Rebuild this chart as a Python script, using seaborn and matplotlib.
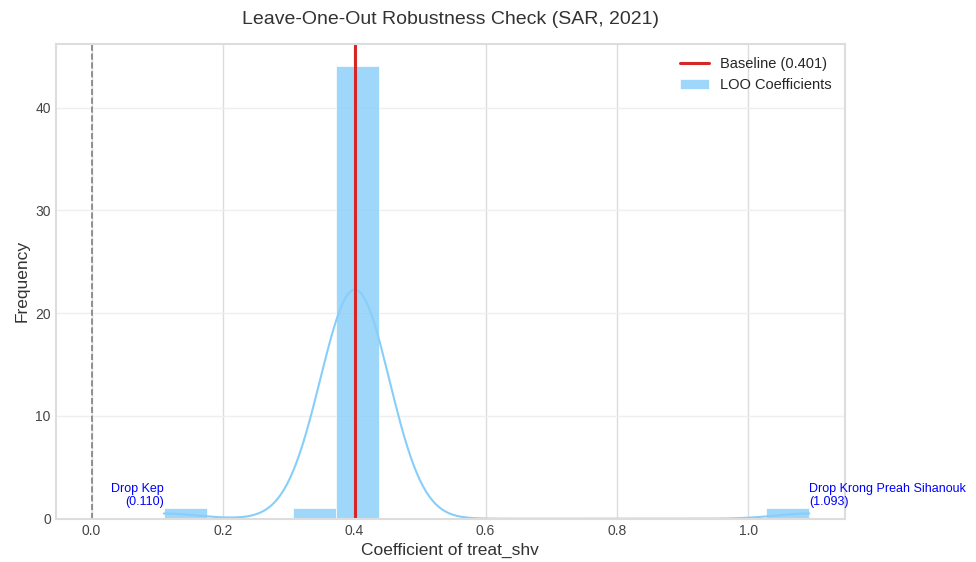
import matplotlib
matplotlib.use("Agg")
import matplotlib.pyplot as plt
from matplotlib.ticker import MultipleLocator
import seaborn as sns
import pandas as pd

# Leave-one-out coefficients
loo_coefs = [0.110, 0.345, 1.093,
             0.380, 0.385, 0.388, 0.390, 0.391, 0.392, 0.393, 0.394, 0.395, 0.396,
             0.396, 0.397, 0.397, 0.398, 0.398, 0.399, 0.399, 0.400, 0.400, 0.400,
             0.401, 0.401, 0.401, 0.402, 0.402, 0.402, 0.403, 0.403, 0.403, 0.404,
             0.404, 0.405, 0.405, 0.406, 0.407, 0.408, 0.409, 0.410, 0.412, 0.414,
             0.416, 0.419, 0.423, 0.428]
baseline = 0.401
drop_min_label = "Drop Kep\n(0.110)"
drop_max_label = "Drop Krong Preah Sihanouk\n(1.093)"

plt.style.use("seaborn-v0_8-whitegrid")
plt.rcParams['font.family'] = ['Liberation Sans', 'DejaVu Sans']

df = pd.DataFrame({"coef": loo_coefs})

fig, ax = plt.subplots(figsize=(9.76, 5.62), dpi=100)
sns.histplot(data=df, x="coef", bins=15, kde=True, color="#87CEFA", alpha=0.8,
             edgecolor="white", linewidth=0.5, label="LOO Coefficients", ax=ax)
ax.axvline(baseline, color="#d62728", linewidth=2.2, label=f"Baseline ({baseline:.3f})")
ax.axvline(0, color="gray", linestyle="--", linewidth=1.2)

vmin = min(loo_coefs)
vmax = max(loo_coefs)
ax.text(vmin, 1, drop_min_label, color="blue", fontsize=9, ha="right", va="bottom")
ax.text(vmax, 1, drop_max_label, color="blue", fontsize=9, ha="left", va="bottom")

ax.set_title("Leave-One-Out Robustness Check (SAR, 2021)", fontsize=14, pad=14, color="#333333")
ax.set_xlabel("Coefficient of treat_shv", fontsize=12.5, color="#333333")
ax.set_ylabel("Frequency", fontsize=12.5, color="#333333")
ax.yaxis.set_major_locator(MultipleLocator(10))
ax.tick_params(labelsize=10, colors="#444444")
ax.grid(axis="x", color="#dcdcdc", linewidth=1)
ax.grid(axis="y", color="#efefef", linewidth=1)
for s in ax.spines.values():
    s.set_visible(True)
    s.set_color("#dddddd")
    s.set_linewidth(1.5)
ax.legend(loc="upper right", fontsize=10.5)

fig.subplots_adjust(left=0.057, right=0.866, top=0.922, bottom=0.077)
fig.savefig("out.png", dpi=100)
